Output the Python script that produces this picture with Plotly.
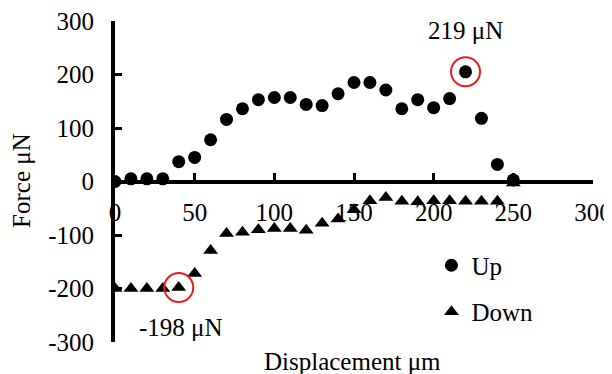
import plotly.graph_objects as go

disp = [0, 10, 20, 30, 40, 50, 60, 70, 80, 90, 100, 110, 120, 130, 140, 150,
        160, 170, 180, 190, 200, 210, 220, 230, 240, 250]
force_up = [0, 5, 5, 5, 37, 45, 78, 116, 136, 153, 157, 157, 144, 142, 164, 185,
            185, 171, 136, 153, 138, 155, 205, 118, 32, 3]
force_down = [-200, -200, -200, -200, -198, -172, -129, -97, -95, -90, -88, -88, -91,
              -78, -70, -53, -36, -30, -37, -38, -36, -36, -37, -37, -37, -3]

x_ticks = [0, 50, 100, 150, 200, 250, 300]
x_tick_labels = ["0", "50", "100", "150", "200", "250", "300"]
y_ticks = [-300, -200, -100, 0, 100, 200, 300]
y_tick_labels = ["-300", "-200", "-100", "0", "100", "200", "300"]

peak_x = [220]
peak_y = [205]
peak_label = "219 μN"
min_x = [40]
min_y = [-198]
min_label = "-198 μN"

FONT = "Liberation Serif, Times New Roman, DejaVu Serif, serif"

fig = go.Figure()
fig.add_trace(go.Scatter(x=disp, y=force_down, mode="markers", name="Down",
                         marker=dict(symbol="triangle-up", size=13, color="black"),
                         legendgroup="b", legendrank=2))
fig.add_trace(go.Scatter(x=disp, y=force_up, mode="markers", name="Up",
                         marker=dict(symbol="circle", size=13, color="black"),
                         legendgroup="a", legendrank=1))
fig.add_trace(go.Scatter(x=peak_x + min_x, y=peak_y + min_y, mode="markers",
                         showlegend=False, hoverinfo="skip",
                         marker=dict(symbol="circle-open", size=29,
                                     line=dict(color="#ee1c1c", width=2), color="#ee1c1c")))

fig.update_layout(
    width=604, height=366,
    margin=dict(l=107, r=19, t=13, b=32),
    paper_bgcolor="white", plot_bgcolor="white",
    font=dict(family=FONT, size=25, color="black"),
    showlegend=True,
    legend=dict(x=0.662, y=0.31, xanchor="left", yanchor="top",
                traceorder="grouped", tracegroupgap=11,
                font=dict(family=FONT, size=25, color="black"),
                bgcolor="rgba(0,0,0,0)", itemwidth=30),
    xaxis=dict(range=[0, 300], tickvals=x_ticks, ticktext=x_tick_labels,
               showline=True, linewidth=4, automargin=False,
               linecolor="black", ticks="inside", ticklen=7, tickwidth=3,
               tickcolor="black", showgrid=False, zeroline=False,
               anchor="free", position=0.5, ticklabelstandoff=7,
               ticklabeloverflow="allow",
               tickfont=dict(family=FONT, size=25, color="black")),
    yaxis=dict(range=[-300, 300], tickvals=y_ticks, ticktext=y_tick_labels,
               showline=True, linewidth=4, automargin=False,
               linecolor="black", ticks="inside", ticklen=7, tickwidth=3,
               tickcolor="black", showgrid=False, zeroline=False,
               ticklabelstandoff=12, ticklabeloverflow="allow",
               tickfont=dict(family=FONT, size=25, color="black")),
    annotations=[
        dict(text="Force μN", xref="paper", yref="paper", x=-0.1946, y=0.505,
             xanchor="center", yanchor="middle",
             textangle=-90, showarrow=False, font=dict(family=FONT, size=25)),
        dict(text="Displacement μm", xref="paper", yref="paper", x=0.496, y=-0.062,
             xanchor="center", yanchor="middle",
             showarrow=False, font=dict(family=FONT, size=25)),
        dict(text=peak_label, x=peak_x[0], y=282, showarrow=False,
             xanchor="center", yanchor="middle",
             font=dict(family=FONT, size=25)),
        dict(text=min_label, x=41.4, y=-273, showarrow=False,
             xanchor="center", yanchor="middle",
             font=dict(family=FONT, size=25)),
    ],
)

fig.write_html("out.html")
